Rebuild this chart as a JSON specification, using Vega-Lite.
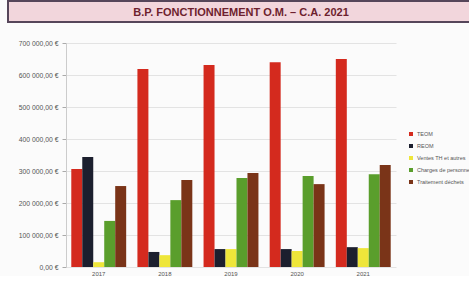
{
  "$schema": "https://vega.github.io/schema/vega-lite/v6.json",
  "padding": {"left": 7, "top": 0, "right": 0, "bottom": 0},
  "background": "#fbfbfb",
  "config": {
    "locale": {"number": {"decimal": ",", "thousands": " ", "grouping": [3], "currency": ["", " €"]}},
    "font": "Liberation Sans",
    "view": {"stroke": null}
  },
  "datasets": {
    "budget": [
      {"annee": "2017", "poste": "TEOM", "montant": 306000},
      {"annee": "2017", "poste": "REOM", "montant": 344000},
      {"annee": "2017", "poste": "Ventes TH et autres", "montant": 15000},
      {"annee": "2017", "poste": "Charges de personnel", "montant": 144000},
      {"annee": "2017", "poste": "Traitement déchets", "montant": 253000},
      {"annee": "2018", "poste": "TEOM", "montant": 619000},
      {"annee": "2018", "poste": "REOM", "montant": 47000},
      {"annee": "2018", "poste": "Ventes TH et autres", "montant": 37000},
      {"annee": "2018", "poste": "Charges de personnel", "montant": 209000},
      {"annee": "2018", "poste": "Traitement déchets", "montant": 272000},
      {"annee": "2019", "poste": "TEOM", "montant": 631000},
      {"annee": "2019", "poste": "REOM", "montant": 56000},
      {"annee": "2019", "poste": "Ventes TH et autres", "montant": 56000},
      {"annee": "2019", "poste": "Charges de personnel", "montant": 278000},
      {"annee": "2019", "poste": "Traitement déchets", "montant": 294000},
      {"annee": "2020", "poste": "TEOM", "montant": 640000},
      {"annee": "2020", "poste": "REOM", "montant": 56000},
      {"annee": "2020", "poste": "Ventes TH et autres", "montant": 50000},
      {"annee": "2020", "poste": "Charges de personnel", "montant": 284000},
      {"annee": "2020", "poste": "Traitement déchets", "montant": 259000},
      {"annee": "2021", "poste": "TEOM", "montant": 650000},
      {"annee": "2021", "poste": "REOM", "montant": 62000},
      {"annee": "2021", "poste": "Ventes TH et autres", "montant": 59000},
      {"annee": "2021", "poste": "Charges de personnel", "montant": 290000},
      {"annee": "2021", "poste": "Traitement déchets", "montant": 319000}
    ],
    "titre": [{"t": "B.P. FONCTIONNEMENT O.M. – C.A. 2021"}]
  },
  "spacing": 17,
  "vconcat": [
    {
      "width": 470,
      "height": 21,
      "view": {"fill": "#f2d6dc", "stroke": "#56465a", "strokeWidth": 2},
      "data": {"name": "titre"},
      "mark": {"type": "text", "font": "Liberation Sans", "fontWeight": "bold", "fontSize": 11, "color": "#6e1f2e", "dx": -2, "dy": 1},
      "encoding": {"text": {"field": "t"}}
    },
    {
      "width": 388,
      "height": 224,
      "data": {"name": "budget"},
      "mark": {"type": "bar"},
      "encoding": {
        "x": {
          "field": "annee", "type": "nominal", "title": null,
          "scale": {"paddingInner": 0.17, "paddingOuter": 0.08, "range": [58, 388]},
          "axis": {"labelAngle": 0, "labelFontSize": 6, "labelColor": "#555", "ticks": false, "domain": false, "labelPadding": 3}
        },
        "xOffset": {"field": "poste", "sort": ["TEOM", "REOM", "Ventes TH et autres", "Charges de personnel", "Traitement déchets"]},
        "y": {
          "field": "montant", "type": "quantitative", "title": null,
          "scale": {"domain": [0, 700000]},
          "axis": {"values": [0, 100000, 200000, 300000, 400000, 500000, 600000, 700000], "format": "$,.2f", "labelFontSize": 6.8, "labelColor": "#555", "tickColor": "#aaa", "tickSize": 4, "domain": true, "domainColor": "#ccc", "gridColor": "#e3e3e3", "labelPadding": 4, "offset": -58}
        },
        "color": {
          "field": "poste", "type": "nominal", "title": null,
          "sort": ["TEOM", "REOM", "Ventes TH et autres", "Charges de personnel", "Traitement déchets"],
          "scale": {"domain": ["TEOM", "REOM", "Ventes TH et autres", "Charges de personnel", "Traitement déchets"], "range": ["#d42a1e", "#1c1f2e", "#eee63a", "#5a9e2c", "#7a3418"]},
          "legend": {"orient": "none", "legendX": 400, "legendY": 130, "symbolType": "square", "symbolSize": 16, "labelFontSize": 5.5, "labelColor": "#555", "rowPadding": 5, "padding": 0, "labelLimit": 100, "labelOffset": 3}
        }
      }
    }
  ]
}
